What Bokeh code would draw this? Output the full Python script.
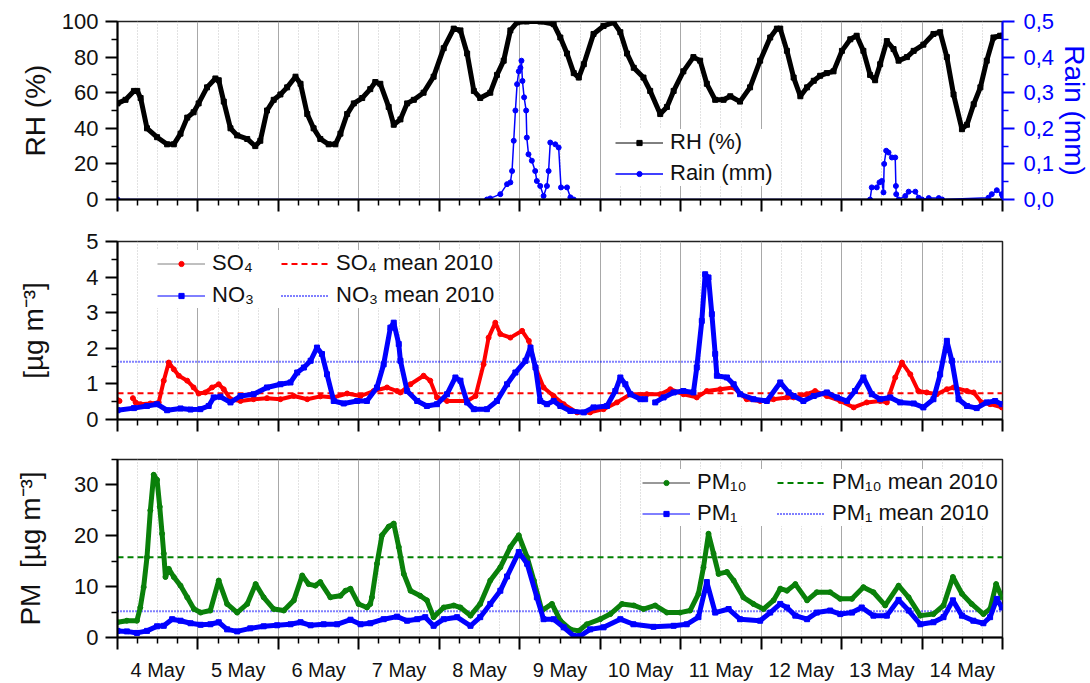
import numpy as np
from bokeh.plotting import figure
from bokeh.models import (Range1d, LinearAxis, FixedTicker, CustomJSTickFormatter,
                          Legend, LegendItem, ColumnDataSource)
from bokeh.layouts import column
from bokeh.embed import file_html
from bokeh.resources import INLINE

NAN = float("nan")

# ---------------- data (hours after 4 May 00:00, value) ----------------
day_labels = ["4 May", "5 May", "6 May", "7 May", "8 May", "9 May",
              "10 May", "11 May", "12 May", "13 May", "14 May"]

rh_obs = [(0, 54), (2.4, 56), (4.9, 61), (5.9, 61), (6.9, 57), (8.8, 40), (11.8, 35),
          (14.8, 31), (16.8, 31), (18.8, 37), (20.8, 46), (22.7, 49), (24.2, 54),
          (26.7, 63), (29.2, 68), (30.2, 67), (31.7, 55), (33.7, 40), (35.7, 36),
          (38.7, 34), (41.1, 30), (42.6, 33), (44.6, 50), (46.6, 56), (48.6, 59),
          (50.6, 63), (53.1, 69), (54.6, 65), (56.6, 48), (58.5, 40), (60.5, 34),
          (63.0, 31), (65.0, 31), (66.5, 37), (68.5, 48), (70.5, 54), (73.0, 57),
          (75.4, 62), (76.9, 66), (78.4, 65), (80.9, 52), (82.4, 42), (84.4, 45),
          (86.4, 54), (88.4, 56), (91.3, 60), (94.3, 69), (97.3, 85), (100.3, 96),
          (102.3, 95), (104.3, 82), (106.3, 61), (108.2, 57), (111.2, 60), (113.2, 70),
          (115.2, 78), (117.2, 95), (119.2, 99.5), (122.1, 100), (126.1, 100),
          (130.1, 98.5), (132.1, 91), (134.1, 82), (136.1, 71), (137.6, 68.5),
          (139.1, 76), (142.0, 93), (145.0, 97.5), (148.0, 99.5), (150.0, 94),
          (152.0, 82), (154.0, 74), (156.9, 68.5), (158.9, 61), (161.9, 48),
          (163.9, 52), (165.9, 61), (168.8, 72), (171.8, 80), (173.8, 78), (175.8, 65),
          (178.3, 56), (180.8, 56), (182.8, 58), (185.7, 55), (188.7, 63), (191.7, 78),
          (194.7, 91), (196.7, 96), (197.7, 96), (199.7, 83.5), (201.7, 68.5),
          (203.7, 58), (205.7, 63), (207.7, 66.7), (209.6, 69.5), (211.6, 71),
          (213.6, 72), (216.1, 83.5), (218.6, 90), (220.5, 92), (222.5, 83.5),
          (224.5, 70), (226.0, 67), (227.5, 76), (229.5, 89), (231.5, 84.5), (233.0, 78),
          (235.5, 80), (237.5, 83.5), (240.4, 87), (243.4, 93), (245.4, 94), (247.4, 80),
          (249.4, 59), (251.9, 39.5), (253.4, 42), (255.4, 53.5), (257.4, 63),
          (259.3, 78), (261.3, 91), (263.3, 92), (264.0, 92)]

rain_obs = [(0, 0), (110.2, 0), (111.2, 0.003), (114.2, 0.015), (116.2, 0.043),
            (117.2, 0.048), (117.7, 0.08), (118.2, 0.165), (118.7, 0.25), (119.2, 0.324),
            (119.7, 0.36), (120.2, 0.37), (120.5, 0.39), (120.8, 0.333), (121.3, 0.287),
            (121.9, 0.25), (122.1, 0.174), (122.6, 0.127), (123.6, 0.109), (124.6, 0.08),
            (125.1, 0.052), (126.1, 0.038), (127.1, 0.01), (128.1, 0.038), (128.6, 0.08),
            (129.1, 0.16), (130.6, 0.155), (131.6, 0.146), (132.3, 0.034), (134.1, 0.034),
            (135.1, 0.006), (136.1, 0), (224.5, 0), (225.0, 0.034), (226.5, 0.034),
            (227.3, 0.048), (228.0, 0.052), (228.5, 0.02), (228.7, 0.1), (229.3, 0.137),
            (230.0, 0.132), (231.0, 0.118), (232.0, 0.118), (232.2, 0.038), (232.3, 0.015),
            (233.0, 0), (235.0, 0.01), (236.0, 0.022), (238.0, 0.022), (239.0, 0.005),
            (240.0, 0), (242.0, 0.004), (245.0, 0.004), (246.0, 0), (259.8, 0.005),
            (260.8, 0.015), (262.3, 0.026), (263.8, 0.015), (264.0, 0.01)]

so4_obs = [(0, 0.55), (0.6, 0.52), (2.0, NAN), (4.6, 0.6), (5.4, 0.48), (6.9, 0.43),
           (9.8, 0.45), (12.3, 0.48), (13.8, 1.09), (15.3, 1.6), (16.8, 1.41), (18.3, 1.23),
           (20.8, 1.09), (22.7, 0.9), (24.2, 0.73), (26.2, 0.76), (28.2, 0.9), (30.2, 0.99),
           (31.7, 0.85), (33.7, 0.57), (36.7, 0.52), (40.6, 0.57), (44.6, 0.6), (48.6, 0.57),
           (52.6, 0.66), (56.6, 0.57), (60.5, 0.65), (64.5, 0.62), (68.5, 0.73), (72.5, 0.66),
           (76.4, 0.8), (80.4, 0.9), (83.4, 0.8), (84.4, 0.76), (87.4, 0.99), (91.3, 1.23),
           (93.3, 1.09), (95.3, 0.62), (98.3, 0.52), (104.3, 0.52), (106.8, 0.66),
           (109.2, 1.55), (110.7, 2.3), (112.7, 2.72), (114.2, 2.4), (117.2, 2.3),
           (120.7, 2.49), (122.7, 2.21), (124.7, 1.46), (127.1, 0.9), (130.1, 0.66),
           (133.1, 0.43), (137.1, 0.2), (141.0, 0.2), (145.0, 0.29), (149.0, 0.48),
           (153.0, 0.71), (157.9, 0.71), (161.9, 0.71), (164.9, 0.85), (168.8, 0.71),
           (172.8, 0.62), (175.8, 0.8), (179.8, 0.85), (183.7, 0.9), (187.7, 0.57),
           (191.7, 0.52), (195.7, 0.57), (199.7, 0.62), (201.7, 0.62), (205.6, 0.71),
           (208.1, 0.8), (211.6, 0.66), (215.6, 0.52), (219.6, 0.34), (223.5, 0.48),
           (227.5, 0.52), (229.5, 0.48), (232.0, 1.18), (234.0, 1.6), (236.5, 1.27),
           (238.9, 0.8), (241.4, 0.76), (244.4, 0.71), (247.4, 0.85), (249.4, 0.9),
           (253.4, 0.8), (255.4, 0.76), (257.8, 0.48), (260.3, 0.43), (263.8, 0.34)]

no3_obs = [(0, 0.26), (4.9, 0.32), (8.8, 0.38), (11.8, 0.43), (14.8, 0.26), (18.8, 0.31),
           (21.8, 0.28), (24.7, 0.29), (27.2, 0.38), (28.7, 0.62), (30.7, 0.64), (33.7, 0.48),
           (36.7, 0.66), (40.6, 0.71), (44.6, 0.9), (48.6, 0.99), (51.6, 1.04), (53.6, 1.32),
           (55.6, 1.46), (57.6, 1.65), (59.5, 2.02), (61.0, 1.84), (62.5, 1.27), (64.5, 0.52),
           (67.5, 0.45), (71.5, 0.52), (74.4, 0.52), (77.4, 0.9), (79.4, 1.55), (81.4, 2.58),
           (82.4, 2.72), (83.9, 2.12), (84.4, 1.65), (86.4, 0.8), (89.4, 0.52), (92.3, 0.38),
           (95.3, 0.43), (98.3, 0.71), (100.8, 1.18), (102.3, 1.09), (104.3, 0.48),
           (106.3, 0.29), (110.2, 0.29), (113.2, 0.52), (116.2, 0.99), (118.7, 1.32),
           (121.7, 1.65), (123.2, 2.02), (124.7, 1.46), (126.1, 0.52), (128.1, 0.43),
           (130.1, 0.52), (132.1, 0.38), (135.1, 0.24), (139.1, 0.2), (142.0, 0.34),
           (146.0, 0.38), (148.5, 0.8), (150.0, 1.18), (151.5, 0.99), (153.0, 0.71),
           (156.0, 0.57), (157.4, 0.57), (158.9, NAN), (160.4, 0.48), (162.9, 0.62),
           (165.9, 0.76), (168.8, 0.8), (171.8, 0.76), (172.8, 1.46), (174.3, 2.77),
           (175.3, 4.08), (176.3, 3.99), (177.3, 2.96), (178.3, 1.84), (178.8, 1.23),
           (181.8, 1.18), (183.8, 0.99), (185.7, 0.71), (189.7, 0.57), (193.7, 0.52),
           (197.7, 1.04), (200.2, 0.76), (201.7, 0.66), (204.6, 0.52), (207.7, 0.66),
           (211.6, 0.76), (214.6, 0.62), (217.6, 0.52), (220.0, 0.8), (222.5, 1.18),
           (225.0, 0.71), (227.5, 0.57), (230.5, 0.62), (233.5, 0.48), (237.5, 0.45),
           (240.4, 0.34), (243.4, 0.57), (245.4, 1.27), (247.4, 2.21), (248.9, 1.65),
           (250.9, 0.57), (253.4, 0.38), (256.3, 0.32), (259.3, 0.48), (261.8, 0.52),
           (263.8, 0.43)]

pm10_obs = [(0, 3.0), (2.8, 3.3), (5.8, 3.3), (6.8, 5.9), (7.8, 9.9), (8.8, 15.8), (9.8, 25),
            (10.8, 32), (11.8, 31), (12.6, 25.7), (13.3, 20.4), (13.8, 16.5), (14.3, 11.9),
            (15.3, 13.5), (16.8, 11.9), (18.8, 10.2), (20.8, 7.9), (22.8, 5.6), (24.8, 4.9),
            (27.7, 5.3), (30.2, 11.2), (32.7, 6.6), (35.7, 4.9), (38.7, 6.6), (41.2, 10.5),
            (43.6, 7.9), (46.6, 5.6), (49.6, 5.3), (52.6, 7.3), (55.1, 12.2), (57.0, 10.5),
            (59.0, 10.2), (60.5, 10.9), (63.5, 7.9), (66.5, 8.2), (68.0, 9.2), (69.5, 9.6),
            (71.9, 6.6), (74.4, 5.9), (75.4, 6.6), (75.9, 7.9), (77.4, 14.5), (78.9, 20.1),
            (80.9, 21.8), (82.4, 22.4), (83.9, 17.8), (85.4, 12.5), (87.4, 9.2), (90.3, 8.2),
            (92.3, 7.3), (94.3, 4.0), (97.3, 5.9), (100.3, 6.3), (102.3, 5.9), (105.3, 4.3),
            (108.2, 6.6), (111.2, 11.2), (114.2, 13.8), (117.2, 17.8), (119.7, 20.1),
            (122.2, 15.8), (124.2, 11.2), (126.6, 5.3), (129.6, 6.6), (132.1, 3.3),
            (135.1, 1.6), (137.6, 1.3), (140.0, 2.6), (144.0, 3.6), (147.0, 4.6),
            (150.5, 6.6), (154.0, 6.3), (156.9, 5.6), (160.4, 6.3), (163.9, 4.9),
            (167.8, 4.9), (170.8, 5.3), (173.3, 8.6), (174.8, 13.8), (176.3, 20.4),
            (177.8, 16.5), (179.3, 12.5), (181.8, 12.9), (183.8, 11.2), (186.7, 7.9),
            (189.7, 6.6), (192.7, 5.6), (195.7, 7.3), (197.7, 9.6), (199.7, 9.2),
            (202.2, 10.5), (205.7, 7.3), (208.6, 8.9), (212.6, 8.9), (215.6, 7.6),
            (219.1, 7.6), (222.5, 9.9), (225.5, 8.9), (229.0, 6.3), (233.0, 10.2),
            (236.0, 7.9), (239.5, 4.3), (243.4, 4.6), (246.4, 6.3), (249.2, 11.9),
            (251.9, 8.6), (254.8, 6.6), (258.3, 4.6), (260.3, 5.6), (262.1, 10.5),
            (263.8, 7.9)]

pm1_obs = [(0, 1.3), (2.8, 1.2), (5.8, 0.9), (8.8, 1.3), (11.8, 2.2), (13.8, 2.3), (16.3, 3.6),
           (18.8, 3.3), (21.8, 2.8), (24.8, 2.5), (27.7, 2.6), (30.2, 3.0), (32.7, 1.6),
           (35.7, 1.2), (39.6, 1.8), (43.6, 2.2), (47.6, 2.4), (51.6, 2.6), (54.6, 3.0),
           (57.6, 2.4), (61.5, 2.6), (65.5, 2.6), (69.5, 3.5), (72.5, 2.6), (75.4, 2.8),
           (79.4, 3.6), (83.4, 4.1), (86.4, 3.3), (89.4, 3.6), (91.8, 4.0), (94.3, 2.3),
           (97.3, 3.6), (101.3, 4.0), (105.3, 2.3), (108.2, 4.0), (111.2, 6.6), (114.2, 9.2),
           (116.2, 12.0), (119.7, 16.8), (122.2, 14.5), (125.1, 7.9), (127.1, 3.6),
           (130.1, 3.6), (133.1, 2.0), (136.1, 0.3), (138.0, 0.3), (141.0, 1.6), (145.0, 2.0),
           (150.0, 3.6), (153.9, 2.6), (159.9, 2.1), (165.9, 2.3), (169.8, 2.6), (173.3, 4.0),
           (175.8, 10.9), (178.3, 4.9), (182.3, 5.6), (185.7, 3.6), (191.7, 3.3),
           (194.7, 4.9), (197.7, 6.6), (199.7, 5.9), (202.2, 4.3), (205.7, 3.6), (208.6, 4.9),
           (212.6, 5.3), (215.6, 4.6), (219.1, 4.9), (222.0, 5.9), (225.5, 4.3), (229.5, 4.3),
           (233.0, 7.4), (236.0, 5.3), (239.5, 2.6), (243.4, 3.0), (246.4, 4.0), (249.2, 7.3),
           (251.9, 4.3), (255.3, 3.3), (258.3, 2.8), (260.3, 4.0), (262.3, 7.6),
           (263.8, 5.9)]

so4_mean_2010 = 0.74
no3_mean_2010 = 1.62
pm10_mean_2010 = 15.8
pm1_mean_2010 = 5.15

N_DAYS = len(day_labels)


def series(obs):
    t = np.array([o[0] for o in obs], dtype=float) / 24.0
    v = np.array([o[1] for o in obs], dtype=float)
    return ColumnDataSource(dict(x=t, y=v))


FONT = "Liberation Sans"
major_x = list(range(0, N_DAYS + 1))
minor_x = [d + q for d in range(N_DAYS) for q in (0.25, 0.5, 0.75)]
noon_x = [d + 0.5 for d in range(N_DAYS)]
x_span = [0, N_DAYS]


def style_y(ax, ticks, minor):
    ax.ticker = FixedTicker(ticks=ticks, minor_ticks=minor)
    ax.major_tick_out = 12
    ax.major_tick_in = 0
    ax.minor_tick_out = 6
    ax.minor_tick_in = 0
    ax.major_tick_line_width = 2
    ax.minor_tick_line_width = 1.5
    ax.axis_line_width = 2
    ax.major_label_text_font = FONT
    ax.major_label_text_font_size = "22px"
    ax.major_label_text_color = "#111111"
    ax.major_label_standoff = 7
    ax.axis_label_text_font = FONT
    ax.axis_label_text_font_size = "28px"
    ax.axis_label_text_font_style = "normal"
    ax.axis_label_text_color = "#111111"


def make_fig(y0, y1, top, bottom):
    p = figure(frame_width=885, frame_height=178,
               x_range=Range1d(0, N_DAYS), y_range=Range1d(y0, y1),
               output_backend="svg", toolbar_location=None,
               min_border_left=117, min_border_right=88,
               min_border_top=top, min_border_bottom=bottom)
    p.background_fill_color = "white"
    p.border_fill_color = "white"
    p.outline_line_color = "#222222"
    p.outline_line_width = 1.5
    ax = p.xaxis[0]
    ax.ticker = FixedTicker(ticks=major_x, minor_ticks=minor_x)
    ax.formatter = CustomJSTickFormatter(code="return '';")
    ax.major_label_text_font_size = "1px"
    ax.major_label_standoff = 0
    ax.major_tick_out = 12
    ax.major_tick_in = 0
    ax.minor_tick_out = 6
    ax.minor_tick_in = 0
    ax.major_tick_line_width = 2
    ax.minor_tick_line_width = 1.5
    ax.axis_line_width = 2
    p.xgrid.ticker = FixedTicker(ticks=major_x, minor_ticks=minor_x)
    p.xgrid.grid_line_color = "#a8a8a8"
    p.xgrid.grid_line_width = 1
    p.xgrid.minor_grid_line_color = "#c4c4c4"
    p.xgrid.minor_grid_line_width = 1
    p.xgrid.minor_grid_line_dash = "1 2"
    p.ygrid.visible = False
    return p


def style_legend(lg, loc, label_width, spacing):
    lg.location = loc
    lg.background_fill_color = "white"
    lg.background_fill_alpha = 1.0
    lg.border_line_color = None
    lg.label_text_font = FONT
    lg.label_text_font_size = "22px"
    lg.label_text_color = "#111111"
    lg.glyph_width = 48
    lg.glyph_height = 13
    lg.label_height = 25
    lg.label_standoff = 7
    lg.label_width = label_width
    lg.spacing = spacing
    lg.padding = 8
    lg.margin = 0


# ---------------- panel 1: RH and rain ----------------
p1 = make_fig(0, 100, 21, 21)
style_y(p1.yaxis[0], [0, 20, 40, 60, 80, 100], [10, 30, 50, 70, 90])
p1.yaxis[0].axis_label = "RH (%)"
p1.yaxis[0].axis_label_standoff = 8

p1.extra_y_ranges = {"rain": Range1d(0, 0.5)}
rax = LinearAxis(y_range_name="rain")
style_y(rax, [0.0, 0.1, 0.2, 0.3, 0.4, 0.5], [0.05, 0.15, 0.25, 0.35, 0.45])
rax.formatter = CustomJSTickFormatter(code="return tick.toFixed(1).replace('.', ',');")
rax.axis_label = "Rain (mm)"
rax.axis_label_standoff = 2
rax.major_label_standoff = 9
for attr in ("axis_line_color", "major_tick_line_color", "minor_tick_line_color",
             "major_label_text_color", "axis_label_text_color"):
    setattr(rax, attr, "#0000ff")
p1.add_layout(rax, "right")

rh = series(rh_obs)
rain = series(rain_obs)
rh_thin = p1.line("x", "y", source=rh, color="#000000", line_width=1)
p1.line("x", "y", source=rh, color="#000000", line_width=5, line_join="round")
rh_pts = p1.scatter("x", "y", source=rh, marker="square", size=5, color="#000000")
rain_line = p1.line("x", "y", source=rain, color="#0000ff", line_width=1.5, y_range_name="rain")
rain_pts = p1.scatter("x", "y", source=rain, marker="circle", size=5, color="#0000ff",
                      y_range_name="rain")

lg1 = Legend(items=[LegendItem(label="RH (%)", renderers=[rh_thin, rh_pts]),
                    LegendItem(label="Rain (mm)", renderers=[rain_line, rain_pts])])
style_legend(lg1, (498, 13), 0, 5)
p1.add_layout(lg1)

# ---------------- panel 2: SO4 and NO3 ----------------
p2 = make_fig(0, 5, 21, 20)
style_y(p2.yaxis[0], [0, 1, 2, 3, 4, 5], [0.5, 1.5, 2.5, 3.5, 4.5])
p2.yaxis[0].axis_label = "[µg m⁻³]"
p2.yaxis[0].axis_label_standoff = 34

so4 = series(so4_obs)
no3 = series(no3_obs)
so4_mean = p2.line(x_span, [so4_mean_2010] * 2, color="#ff0000", line_width=2, line_dash="6 4")
no3_mean = p2.line(x_span, [no3_mean_2010] * 2, color="#0000ff", line_width=2, line_dash="1 2")
so4_thin = p2.line("x", "y", source=so4, color="#808080", line_width=1)
p2.line("x", "y", source=so4, color="#ff0000", line_width=4, line_join="round")
so4_pts = p2.scatter("x", "y", source=so4, marker="circle", size=5, color="#ff0000")
no3_thin = p2.line("x", "y", source=no3, color="#0000ff", line_width=1)
p2.line("x", "y", source=no3, color="#0000ff", line_width=5, line_join="round")
no3_pts = p2.scatter("x", "y", source=no3, marker="square", size=5, color="#0000ff")

lg2 = Legend(items=[LegendItem(label="SO₄", renderers=[so4_thin, so4_pts]),
                    LegendItem(label="NO₃", renderers=[no3_thin, no3_pts]),
                    LegendItem(label="SO₄ mean 2010", renderers=[so4_mean]),
                    LegendItem(label="NO₃ mean 2010", renderers=[no3_mean])],
             ncols=2)
style_legend(lg2, (40, 111), 63, 6)
p2.add_layout(lg2)

# ---------------- panel 3: PM10 and PM1 ----------------
p3 = make_fig(0, 35, 20, 46)
style_y(p3.yaxis[0], [0, 10, 20, 30], [5, 15, 25, 35])
p3.yaxis[0].axis_label = "PM\u00a0\u00a0[µg m⁻³]"
p3.yaxis[0].axis_label_standoff = 25

lab_axis = LinearAxis(ticker=FixedTicker(ticks=noon_x, minor_ticks=[]),
                      formatter=CustomJSTickFormatter(args=dict(labels=day_labels),
                                                      code="return labels[Math.floor(tick)];"))
lab_axis.axis_line_color = None
lab_axis.major_tick_line_color = None
lab_axis.minor_tick_line_color = None
lab_axis.major_tick_out = 0
lab_axis.major_tick_in = 0
lab_axis.minor_tick_out = 0
lab_axis.minor_tick_in = 0
lab_axis.major_label_text_font = FONT
lab_axis.major_label_text_font_size = "20px"
lab_axis.major_label_text_color = "#111111"
lab_axis.major_label_standoff = 9
p3.add_layout(lab_axis, "below")

pm10 = series(pm10_obs)
pm1 = series(pm1_obs)
pm10_mean = p3.line(x_span, [pm10_mean_2010] * 2, color="#008000", line_width=2, line_dash="6 4")
pm1_mean = p3.line(x_span, [pm1_mean_2010] * 2, color="#0000ff", line_width=2, line_dash="1 2")
pm10_thin = p3.line("x", "y", source=pm10, color="#333333", line_width=1)
p3.line("x", "y", source=pm10, color="#0a800a", line_width=5, line_join="round")
pm10_pts = p3.scatter("x", "y", source=pm10, marker="circle", size=5, color="#0a800a")
pm1_thin = p3.line("x", "y", source=pm1, color="#0000ff", line_width=1)
p3.line("x", "y", source=pm1, color="#0000ff", line_width=5, line_join="round")
pm1_pts = p3.scatter("x", "y", source=pm1, marker="square", size=5, color="#0000ff")

lg3 = Legend(items=[LegendItem(label="PM₁₀", renderers=[pm10_thin, pm10_pts]),
                    LegendItem(label="PM₁", renderers=[pm1_thin, pm1_pts]),
                    LegendItem(label="PM₁₀ mean 2010", renderers=[pm10_mean]),
                    LegendItem(label="PM₁ mean 2010", renderers=[pm1_mean])],
             ncols=2)
style_legend(lg3, (525, 111), 75, 5)
p3.add_layout(lg3)

layout = column(p1, p2, p3)
open("out.html", "w").write(file_html(layout, INLINE))
